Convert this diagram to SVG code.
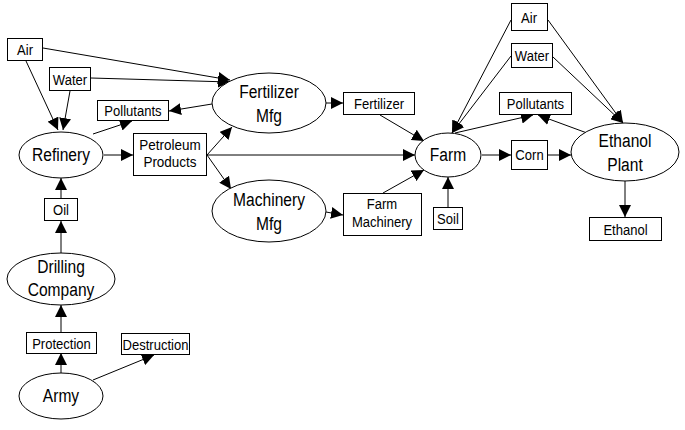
<svg xmlns="http://www.w3.org/2000/svg" width="685" height="430" viewBox="0 0 685 430">
<style>
.n rect,.n ellipse{fill:#fff;stroke:#000;stroke-width:1}
.n text{font-family:"Liberation Sans",Arial,sans-serif;text-anchor:middle;fill:#000}
.b{font-size:15px}
.e{font-size:19px}
#connectors line{stroke:#000;stroke-width:1;marker-end:url(#ah)}
</style>
<defs>
<marker id="ah" markerUnits="userSpaceOnUse" markerWidth="12" markerHeight="12" refX="12" refY="6" orient="auto">
<path d="M0,0 L12,6 L0,12 z" fill="#000"/>
</marker>
</defs>
<rect width="685" height="430" fill="#fff"/>
<g id="connectors">
<line x1="26" y1="61" x2="58" y2="130"/>
<line x1="70" y1="91" x2="63" y2="130"/>
<line x1="43" y1="48" x2="230" y2="80"/>
<line x1="91" y1="78" x2="230" y2="82"/>
<line x1="212" y1="104" x2="169" y2="111"/>
<line x1="93" y1="134" x2="132" y2="121"/>
<line x1="104" y1="155" x2="133" y2="155"/>
<line x1="207" y1="155" x2="232" y2="127"/>
<line x1="207" y1="155" x2="231" y2="189"/>
<line x1="207" y1="155" x2="415" y2="155"/>
<line x1="326" y1="103" x2="343" y2="103"/>
<line x1="326" y1="212" x2="343" y2="215"/>
<line x1="380" y1="115" x2="424" y2="141"/>
<line x1="383" y1="193" x2="424" y2="170"/>
<line x1="448" y1="207" x2="448" y2="177"/>
<line x1="511" y1="20" x2="452" y2="133"/>
<line x1="511" y1="56" x2="452" y2="133"/>
<line x1="548" y1="20" x2="623" y2="123"/>
<line x1="553" y1="57" x2="623" y2="123"/>
<line x1="455" y1="133" x2="533" y2="115"/>
<line x1="587" y1="133" x2="538" y2="115"/>
<line x1="482" y1="155" x2="511" y2="155"/>
<line x1="548" y1="155" x2="571" y2="155"/>
<line x1="625" y1="181" x2="625" y2="217"/>
<line x1="61" y1="198" x2="61" y2="178"/>
<line x1="61" y1="253" x2="61" y2="221"/>
<line x1="61" y1="332" x2="61" y2="305"/>
<line x1="61" y1="373" x2="61" y2="353"/>
<line x1="93" y1="380" x2="154" y2="355"/>
</g>
<g id="air-left" class="n"><rect x="7.5" y="38.5" width="35" height="22"/><text class="b" transform="translate(25,55) scale(0.87,1)">Air</text></g>
<g id="water-left" class="n"><rect x="49.5" y="67.5" width="41" height="23"/><text class="b" transform="translate(70,85) scale(0.87,1)">Water</text></g>
<g id="pollutants-left" class="n"><rect x="97.5" y="100.5" width="71" height="20"/><text class="b" transform="translate(133,116) scale(0.87,1)">Pollutants</text></g>
<g id="refinery" class="n"><ellipse cx="61" cy="155" rx="42" ry="23"/><text class="e" transform="translate(61,161) scale(0.82,1)">Refinery</text></g>
<g id="petroleum-products" class="n"><rect x="133.5" y="133.5" width="73" height="42"/><text class="b" transform="translate(170,150) scale(0.9,1)">Petroleum</text><text class="b" transform="translate(170,167) scale(0.9,1)">Products</text></g>
<g id="fertilizer-mfg" class="n"><ellipse cx="269" cy="103" rx="57" ry="30"/><text class="e" transform="translate(269,98) scale(0.82,1)">Fertilizer</text><text class="e" transform="translate(269,122) scale(0.82,1)">Mfg</text></g>
<g id="fertilizer" class="n"><rect x="343.5" y="92.5" width="71" height="22"/><text class="b" transform="translate(379,109) scale(0.87,1)">Fertilizer</text></g>
<g id="machinery-mfg" class="n"><ellipse cx="269" cy="211" rx="57" ry="31"/><text class="e" transform="translate(269,206) scale(0.82,1)">Machinery</text><text class="e" transform="translate(269,230) scale(0.82,1)">Mfg</text></g>
<g id="farm-machinery" class="n"><rect x="343.5" y="193.5" width="78" height="42"/><text class="b" transform="translate(382,209) scale(0.87,1)">Farm</text><text class="b" transform="translate(382,227) scale(0.87,1)">Machinery</text></g>
<g id="farm" class="n"><ellipse cx="448" cy="155" rx="33" ry="22"/><text class="e" transform="translate(448,161) scale(0.82,1)">Farm</text></g>
<g id="soil" class="n"><rect x="433.5" y="207.5" width="29" height="22"/><text class="b" transform="translate(448,224) scale(0.87,1)">Soil</text></g>
<g id="air-right" class="n"><rect x="511.5" y="3.5" width="36" height="27"/><text class="b" transform="translate(529,23) scale(0.87,1)">Air</text></g>
<g id="water-right" class="n"><rect x="511.5" y="43.5" width="41" height="24"/><text class="b" transform="translate(532,61) scale(0.87,1)">Water</text></g>
<g id="pollutants-right" class="n"><rect x="499.5" y="92.5" width="72" height="22"/><text class="b" transform="translate(535.5,109) scale(0.87,1)">Pollutants</text></g>
<g id="corn" class="n"><rect x="511.5" y="140.5" width="36" height="29"/><text class="b" transform="translate(529.5,160) scale(0.87,1)">Corn</text></g>
<g id="ethanol-plant" class="n"><ellipse cx="625" cy="152" rx="54" ry="29"/><text class="e" transform="translate(625,147) scale(0.82,1)">Ethanol</text><text class="e" transform="translate(625,171) scale(0.82,1)">Plant</text></g>
<g id="ethanol" class="n"><rect x="589.5" y="217.5" width="72" height="23"/><text class="b" transform="translate(625.5,235) scale(0.87,1)">Ethanol</text></g>
<g id="oil" class="n"><rect x="44.5" y="198.5" width="33" height="22"/><text class="b" transform="translate(61,215) scale(0.87,1)">Oil</text></g>
<g id="drilling-company" class="n"><ellipse cx="61" cy="279" rx="54" ry="26"/><text class="e" transform="translate(61,273) scale(0.82,1)">Drilling</text><text class="e" transform="translate(61,296) scale(0.82,1)">Company</text></g>
<g id="protection" class="n"><rect x="26.5" y="332.5" width="70" height="21"/><text class="b" transform="translate(61.5,349) scale(0.87,1)">Protection</text></g>
<g id="destruction" class="n"><rect x="121.5" y="333.5" width="68" height="21"/><text class="b" transform="translate(155.5,350) scale(0.87,1)">Destruction</text></g>
<g id="army" class="n"><ellipse cx="61" cy="396" rx="42" ry="23"/><text class="e" transform="translate(61,402) scale(0.82,1)">Army</text></g>
</svg>
